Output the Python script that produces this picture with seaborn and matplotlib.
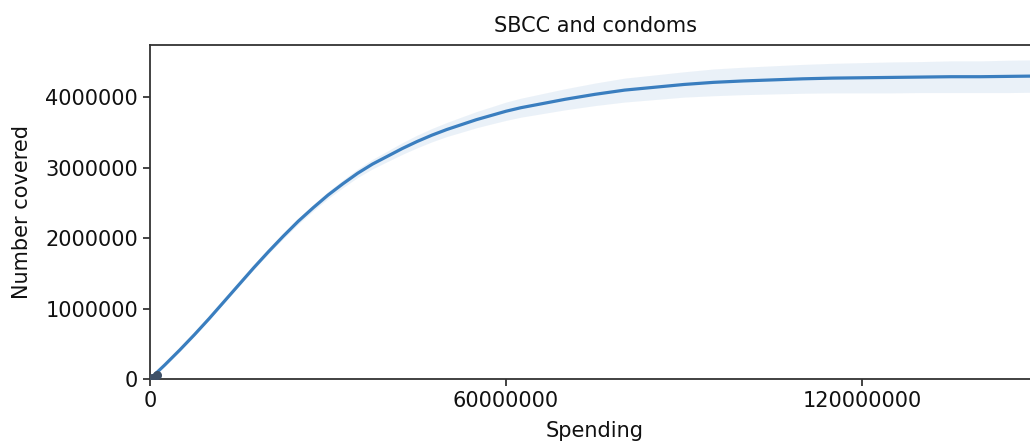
import numpy as np
import pandas as pd
import matplotlib
matplotlib.use("Agg")
import matplotlib.pyplot as plt
import seaborn as sns

# spending in units of 1e6
spending_m = [0, 2.5, 5, 7.5, 10, 12.5, 15, 17.5, 20, 22.5, 25, 27.5, 30,
              32.5, 35, 37.5, 40, 42.5, 45, 47.5, 50, 52.5, 55, 57.5, 60,
              62.5, 65, 67.5, 70, 75, 80, 85, 90, 95, 100, 105, 110, 115,
              120, 125, 130, 135, 140, 145, 150]
covered_m = [0.0, 0.20, 0.41, 0.63, 0.86, 1.10, 1.34, 1.58, 1.81, 2.03,
             2.24, 2.43, 2.61, 2.77, 2.92, 3.05, 3.16, 3.27, 3.37, 3.46,
             3.54, 3.61, 3.68, 3.74, 3.80, 3.85, 3.89, 3.93, 3.97, 4.04,
             4.10, 4.14, 4.18, 4.21, 4.23, 4.245, 4.26, 4.27, 4.275, 4.28,
             4.285, 4.29, 4.29, 4.295, 4.30]
# half width of the uncertainty band, millions
band_m = [0.0, 0.002, 0.005, 0.008, 0.01, 0.015, 0.02, 0.025, 0.03, 0.035,
          0.04, 0.045, 0.05, 0.055, 0.06, 0.068, 0.075, 0.083, 0.09, 0.095,
          0.10, 0.108, 0.115, 0.122, 0.13, 0.135, 0.14, 0.145, 0.15, 0.16,
          0.17, 0.175, 0.18, 0.19, 0.195, 0.20, 0.205, 0.21, 0.215, 0.22,
          0.22, 0.225, 0.225, 0.23, 0.23]

# observed points near the origin
obs_spending = [400000, 1200000]
obs_covered = [15000, 50000]

df = pd.DataFrame({
    'Spending': np.array(spending_m) * 1e6,
    'Number covered': np.array(covered_m) * 1e6,
    'band': np.array(band_m) * 1e6,
})

sns.set_style("ticks")
plt.rcParams['font.family'] = ['DejaVu Sans']

fig = plt.figure(figsize=(10.3, 4.43), dpi=100)
ax = fig.add_axes([150 / 1030, 64 / 443, 890 / 1030, 334 / 443])

line_color = '#3a7ebf'
ax.fill_between(df['Spending'], df['Number covered'] - df['band'],
                df['Number covered'] + df['band'], color=line_color,
                alpha=0.1, linewidth=0)
sns.lineplot(data=df, x='Spending', y='Number covered', ax=ax,
             color=line_color, linewidth=2.3)
ax.scatter(obs_spending, obs_covered, color='#3f5168', s=30, zorder=3)

ax.set_xlim(0, 150e6)
ax.set_ylim(0, 4.74e6)
ax.set_xticks([0, 60000000, 120000000])
ax.set_xticklabels(['0', '60000000', '120000000'])
ax.set_yticks([0, 1000000, 2000000, 3000000, 4000000])
ax.set_yticklabels(['0', '1000000', '2000000', '3000000', '4000000'])
ax.tick_params(labelsize=15, length=5, width=1.2, colors='#222222',
               labelcolor='#111111')
for sp in ax.spines.values():
    sp.set_linewidth(1.3)
    sp.set_color('#333333')

ax.set_title('SBCC and condoms', fontsize=15, pad=9, color='#111111')
ax.set_xlabel('Spending', fontsize=15, labelpad=7, color='#111111')
ax.set_ylabel('Number covered', fontsize=15, labelpad=10, color='#111111')

fig.savefig('out.png', dpi=100)
